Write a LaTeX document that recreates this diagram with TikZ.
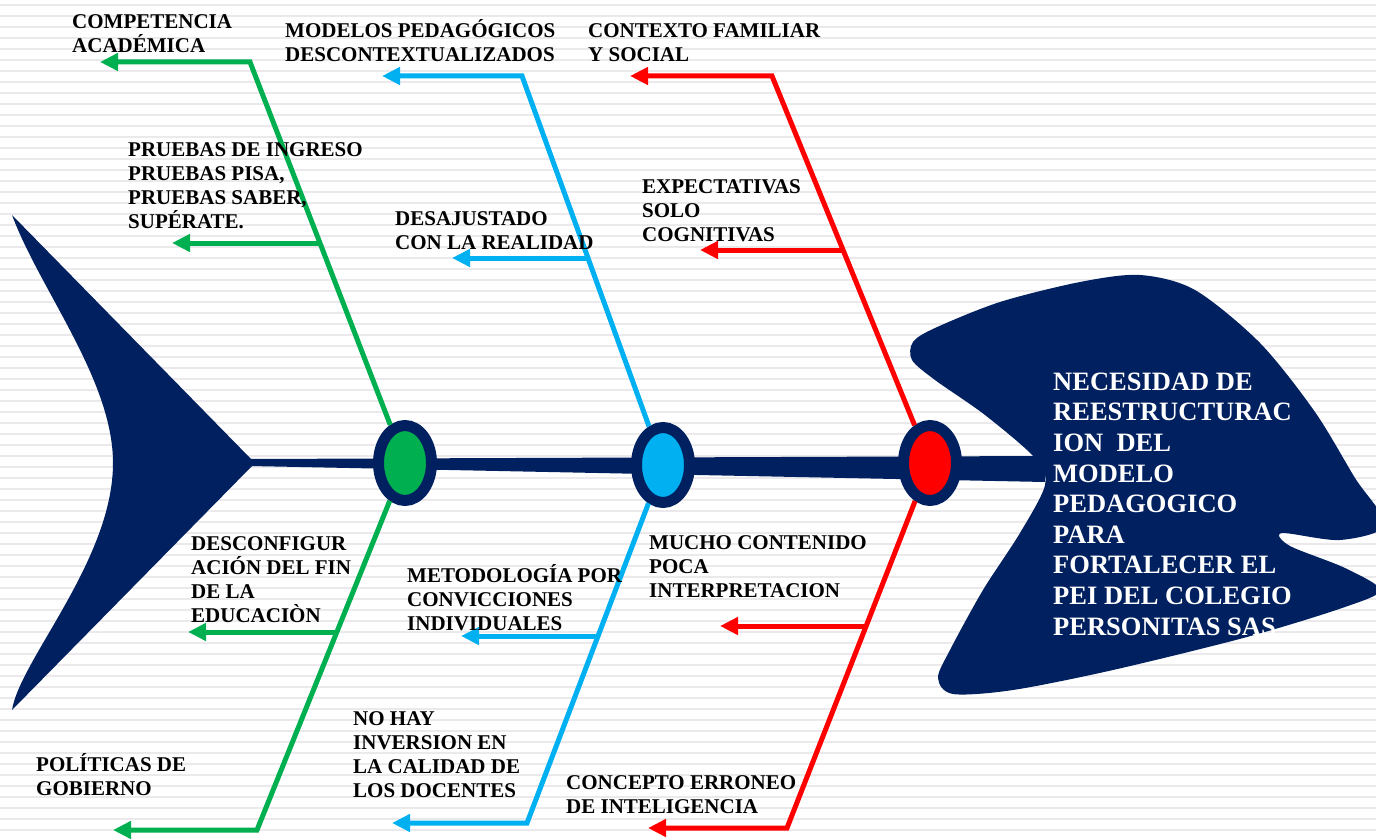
\documentclass[tikz,border=0pt]{standalone}
\usepackage{fontspec}
\setmainfont{Liberation Serif}
\usetikzlibrary{arrows.meta,shapes.geometric}
\definecolor{marino}{HTML}{002060}
\definecolor{verde}{HTML}{00B050}
\definecolor{celeste}{HTML}{00B0F0}
\definecolor{rojo}{HTML}{FF0000}
\definecolor{raya}{HTML}{ECE9EC}
\begin{document}
\begin{tikzpicture}[x=1pt, y=-1pt,
    causa/.style={ellipse, draw=marino, line width=11pt, minimum width=53pt, minimum height=75pt, inner sep=0pt},
    flecha/.style={line width=5pt, -{Triangle[length=18pt, width=17pt]}},
    etiqueta/.style={font=\fontsize{21}{24}\selectfont\bfseries, align=left, anchor=base west, inner sep=0pt},
    efecto/.style={font=\fontsize{26.5}{30.6}\selectfont\bfseries, text=white, align=left, anchor=base west, inner sep=0pt}]
    \useasboundingbox (0,0) rectangle (1376,840);
    \clip (0,0) rectangle (1376,840);

    % fondo rayado
    \foreach \y in {5,16,...,840}
        \draw[raya, line width=2.5pt] (0,\y) -- (1376,\y);

    % cola y cabeza
    \fill[marino] (12,215) -- (252,460) -- (252,466) -- (12,710) .. controls (20,660) and (113,560) .. (113,463) .. controls (113,380) and (40,290) .. cycle;
    \fill[marino] plot[smooth cycle] coordinates {(1035,458) (985,415) (935,380) (912,360) (913,342) (935,328) (1000,302) (1080,282) (1140,275) (1195,290) (1260,343) (1315,412) (1355,478) (1385,525) (1340,540) (1282,533) (1290,546) (1345,568) (1380,590) (1345,607) (1247,637) (1113,670) (1013,690) (953,694) (938,678) (950,650) (983,590) (1020,533) (1045,485)};
    % espina
    \fill[marino] (250,459) -- (1045,456) -- (1045,482) -- (250,466) -- cycle;

    \node[causa, fill=verde] (nv) at (405,463) {};
    \node[causa, fill=celeste] (na) at (663,465) {};
    \node[causa, fill=rojo] (nr) at (930,463) {};

    \coordinate (v1c) at (250,62);  \coordinate (v1p) at (100,62);
    \coordinate (v2) at (320,243);  \coordinate (v2p) at (172,243);
    \coordinate (v3c) at (257,830); \coordinate (v3p) at (113,830);
    \coordinate (v4) at (337,632);  \coordinate (v4p) at (188,632);
    \coordinate (a1c) at (522,76);  \coordinate (a1p) at (382,76);
    \coordinate (a2) at (588,258);  \coordinate (a2p) at (452,258);
    \coordinate (a3c) at (527,823); \coordinate (a3p) at (392,823);
    \coordinate (a4) at (598,636);  \coordinate (a4p) at (461,636);
    \coordinate (r1c) at (772,76);  \coordinate (r1p) at (630,76);
    \coordinate (r2) at (843,250);  \coordinate (r2p) at (700,250);
    \coordinate (r3c) at (787,828); \coordinate (r3p) at (648,828);
    \coordinate (r4) at (866,626);  \coordinate (r4p) at (720,626);

    \draw[flecha, verde] (nv) -- (v1c) -- (v1p);
    \draw[flecha, verde] (v2) -- (v2p);
    \draw[flecha, verde] (nv) -- (v3c) -- (v3p);
    \draw[flecha, verde] (v4) -- (v4p);
    \draw[flecha, celeste] (na) -- (a1c) -- (a1p);
    \draw[flecha, celeste] (a2) -- (a2p);
    \draw[flecha, celeste] (na) -- (a3c) -- (a3p);
    \draw[flecha, celeste] (a4) -- (a4p);
    \draw[flecha, rojo] (nr) -- (r1c) -- (r1p);
    \draw[flecha, rojo] (r2) -- (r2p);
    \draw[flecha, rojo] (nr) -- (r3c) -- (r3p);
    \draw[flecha, rojo] (r4) -- (r4p);

    % textos (anclados en la linea base de su ultima linea)
    \node[efecto] (t0) at (1053,635) {NECESIDAD DE\\REESTRUCTURAC\\ION\ \ DEL\\MODELO\\PEDAGOGICO\\PARA\\FORTALECER EL\\PEI DEL COLEGIO\\PERSONITAS SAS};
    \node[etiqueta] (t1) at (72,53) {COMPETENCIA\\ACADÉMICA};
    \node[etiqueta] (t2) at (128,228) {PRUEBAS DE INGRESO\\PRUEBAS PISA,\\PRUEBAS SABER,\\SUPÉRATE.};
    \node[etiqueta] (t3) at (191,622) {DESCONFIGUR\\ACIÓN DEL FIN\\DE LA\\EDUCACIÒN};
    \node[etiqueta] (t4) at (36,795) {POLÍTICAS DE\\GOBIERNO};
    \node[etiqueta] (t5) at (285,62) {MODELOS PEDAGÓGICOS\\DESCONTEXTUALIZADOS};
    \node[etiqueta] (t6) at (395,249) {DESAJUSTADO\\CON LA REALIDAD};
    \node[etiqueta] (t7) at (407,630) {METODOLOGÍA POR\\CONVICCIONES\\INDIVIDUALES};
    \node[etiqueta] (t8) at (353,797) {NO HAY\\INVERSION EN\\LA CALIDAD DE\\LOS DOCENTES};
    \node[etiqueta] (t9) at (588,62) {CONTEXTO FAMILIAR\\Y SOCIAL};
    \node[etiqueta] (t10) at (642,241) {EXPECTATIVAS\\SOLO\\COGNITIVAS};
    \node[etiqueta] (t11) at (649,597) {MUCHO CONTENIDO\\POCA\\INTERPRETACION};
    \node[etiqueta] (t12) at (566,813) {CONCEPTO ERRONEO\\DE INTELIGENCIA};
\end{tikzpicture}
\end{document}
